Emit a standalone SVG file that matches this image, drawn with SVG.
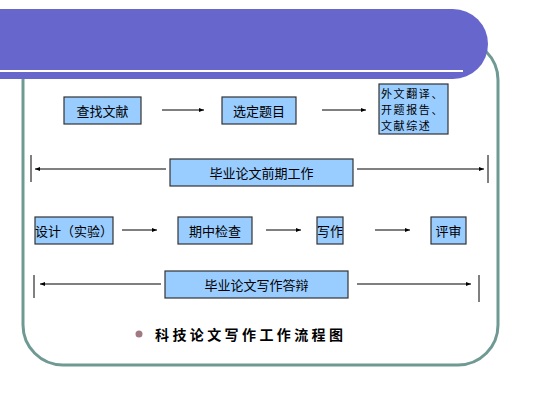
<svg xmlns="http://www.w3.org/2000/svg" width="533" height="400" viewBox="0 0 533 400">
<defs>
<marker id="ah" viewBox="0 0 10 10" refX="10" refY="5" markerWidth="5" markerHeight="5" orient="auto-start-reverse" markerUnits="userSpaceOnUse">
<path d="M0,1 L10,5 L0,9 Z" fill="#000"/>
</marker>
<style>
.box{fill:#99ccff;stroke:#333;stroke-width:1.2}
.t{font-family:"Noto Sans CJK SC","Liberation Sans",sans-serif;font-size:13px;fill:#000;text-anchor:middle;dominant-baseline:central}
.t3{font-family:"Noto Sans CJK SC","Liberation Sans",sans-serif;font-size:11px;letter-spacing:1.6px;fill:#000;dominant-baseline:central}
.ln{stroke:#000;stroke-width:1;fill:none}
.ar{stroke:#000;stroke-width:1;fill:none;marker-end:url(#ah)}
.ar2{stroke:#000;stroke-width:1;fill:none;marker-start:url(#ah)}
</style>
</defs>
<rect width="533" height="400" fill="#fff"/>
<rect x="23" y="40" width="475" height="325" rx="40" fill="#fff" stroke="#6f9a94" stroke-width="3"/>
<path d="M0,9 H453 A35,35 0 0 1 488,44 A35,35 0 0 1 453,79 H0 Z" fill="#6666cc"/>
<line x1="0" y1="71" x2="463" y2="71" stroke="#fff" stroke-width="2"/>

<g id="connectors">
<line class="ar" x1="162" y1="110" x2="204" y2="110"/>
<line class="ar" x1="322" y1="110" x2="366" y2="110"/>
<line class="ln" x1="31" y1="155" x2="31" y2="182"/>
<line class="ar2" x1="35" y1="169" x2="166" y2="169"/>
<line class="ar" x1="357" y1="169" x2="484" y2="169"/>
<line class="ln" x1="488" y1="155" x2="488" y2="183"/>
<line class="ar" x1="122" y1="230" x2="157" y2="230"/>
<line class="ar" x1="266" y1="230" x2="301" y2="230"/>
<line class="ar" x1="375" y1="230" x2="410" y2="230"/>
<line class="ln" x1="34" y1="275" x2="34" y2="298"/>
<line class="ar2" x1="40" y1="284" x2="161" y2="284"/>
<line class="ar" x1="357" y1="284" x2="471" y2="284"/>
<line class="ln" x1="479" y1="275" x2="479" y2="302"/>
</g>

<g id="n1"><rect class="box" x="64" y="97" width="77" height="27"/><text class="t" x="102.5" y="110.5">查找文献</text></g>
<g id="n2"><rect class="box" x="222" y="97" width="74" height="27"/><text class="t" x="259" y="110.5">选定题目</text></g>
<g id="n3"><rect class="box" x="379" y="84" width="69" height="50"/>
<text class="t3" x="381" y="93">外文翻译、</text>
<text class="t3" x="381" y="109">开题报告、</text>
<text class="t3" x="381" y="125">文献综述</text></g>
<g id="n4"><rect class="box" x="170" y="159" width="183" height="27"/><text class="t" x="261.5" y="172.5">毕业论文前期工作</text></g>
<g id="n5"><rect class="box" x="35" y="217" width="78" height="27"/><text class="t" x="74" y="230.5">设计（实验）</text></g>
<g id="n6"><rect class="box" x="178" y="217" width="74" height="27"/><text class="t" x="215" y="230.5">期中检查</text></g>
<g id="n7"><rect class="box" x="317" y="217" width="26" height="27"/><text class="t" x="330" y="230.5">写作</text></g>
<g id="n8"><rect class="box" x="431" y="217" width="35" height="27"/><text class="t" x="448.5" y="230.5">评审</text></g>
<g id="n9"><rect class="box" x="165" y="271" width="183" height="27"/><text class="t" x="256.5" y="284.5">毕业论文写作答辩</text></g>

<g id="caption">
<circle cx="139" cy="334" r="3.5" fill="#a07a80"/>
<text x="155" y="334" font-family="Noto Sans CJK SC,sans-serif" font-size="14" font-weight="bold" letter-spacing="3.4" dominant-baseline="central" fill="#000">科技论文写作工作流程图</text>
</g>
</svg>
